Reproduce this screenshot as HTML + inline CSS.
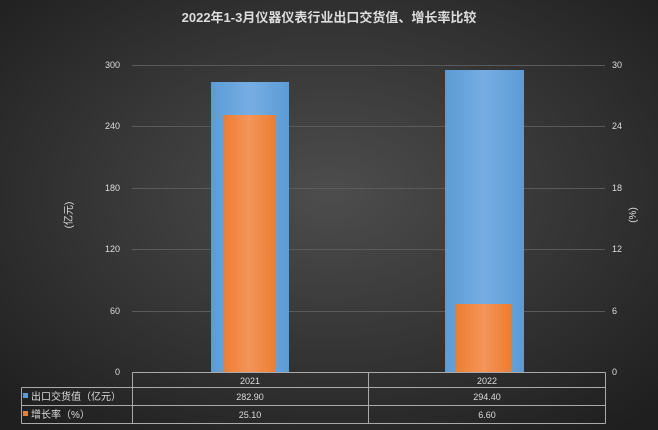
<!DOCTYPE html>
<html><head><meta charset="utf-8"><style>
body{margin:0;width:658px;height:430px;overflow:hidden;background:#333}
svg{display:block}
text{font-family:"Liberation Sans","Noto Sans CJK SC",sans-serif;fill:#ddd}
</style></head><body>
<svg width="658" height="430" viewBox="0 0 658 430">
<defs><radialGradient id="bg" cx="50%" cy="45%" r="70%"><stop offset="0" stop-color="#4d4d4d"/><stop offset="1" stop-color="#1f1f1f"/></radialGradient>
<linearGradient id="bl" x1="0" x2="1"><stop offset="0" stop-color="#5b9bd5"/><stop offset=".5" stop-color="#76aee3"/><stop offset="1" stop-color="#5b9bd5"/></linearGradient>
<linearGradient id="or" x1="0" x2="1"><stop offset="0" stop-color="#ed7d31"/><stop offset=".5" stop-color="#f4955a"/><stop offset="1" stop-color="#ed7d31"/></linearGradient></defs>
<rect width="658" height="430" fill="url(#bg)"/>
<text x="329" y="22" text-anchor="middle" font-size="13" font-weight="bold" fill="#fff">2022年1-3月仪器仪表行业出口交货值、增长率比较</text>
<g stroke="#5a5a5a" stroke-width="1">
<line x1="132" x2="605" y1="65.5" y2="65.5"/><line x1="132" x2="605" y1="126.5" y2="126.5"/><line x1="132" x2="605" y1="188.5" y2="188.5"/><line x1="132" x2="605" y1="249.5" y2="249.5"/><line x1="132" x2="605" y1="311.5" y2="311.5"/></g>
<g font-size="9" text-anchor="end">
<text x="120" y="68">300</text><text x="120" y="129">240</text><text x="120" y="191">180</text><text x="120" y="252">120</text><text x="120" y="314">60</text><text x="120" y="375">0</text></g>
<g font-size="9" text-anchor="start">
<text x="612" y="68">30</text><text x="612" y="129">24</text><text x="612" y="191">18</text><text x="612" y="252">12</text><text x="612" y="314">6</text><text x="612" y="375">0</text></g>
<text transform="translate(72,215) rotate(-90)" font-size="10" text-anchor="middle">(亿元)</text>
<text transform="translate(636,215) rotate(-90)" font-size="10" text-anchor="middle">(%)</text>
<rect x="211" y="82" width="78" height="290" fill="url(#bl)"/>
<rect x="445" y="70" width="79" height="302" fill="url(#bl)"/>
<rect x="223" y="115" width="53" height="257" fill="url(#or)"/>
<rect x="456" y="304" width="55" height="68" fill="url(#or)"/>
<g stroke="#aaa" stroke-width="1" fill="none">
<path d="M132.5 372.5V423.5M368.5 372.5V423.5M605.5 372.5V423.5M21.5 387.5H605.5M21.5 405.5H605.5M21.5 423.5H605.5M21.5 387.5V423.5M132.5 372.5H605.5"/></g>
<g font-size="9" text-anchor="middle">
<text x="250" y="384">2021</text><text x="487" y="384">2022</text>
<text x="250" y="400">282.90</text><text x="487" y="400">294.40</text>
<text x="250" y="418">25.10</text><text x="487" y="418">6.60</text></g>
<rect x="23" y="393" width="5" height="5" fill="#5b9bd5"/>
<rect x="23" y="411" width="5" height="5" fill="#ed7d31"/>
<text x="31" y="400" font-size="10">出口交货值（亿元）</text>
<text x="31" y="418" font-size="10">增长率（%）</text>
</svg>
</body></html>
